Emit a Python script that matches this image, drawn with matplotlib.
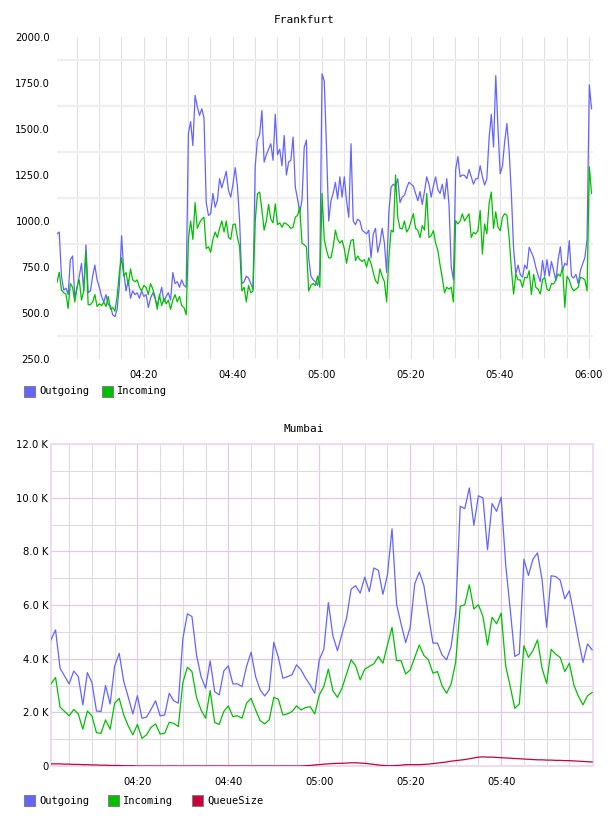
import matplotlib
matplotlib.use("Agg")
import matplotlib.pyplot as plt
from matplotlib.patches import Rectangle
import numpy as np

# ---------------- Frankfurt (30 s samples starting 04:00:34) ----------------
fra_start_min = 0.57
fra_step_min = 0.5
fra_outgoing = [
    930, 940, 700, 625, 635, 600, 790, 810, 580, 640,
    700, 770, 620, 870, 610, 620, 700, 760, 680, 640,
    590, 560, 600, 545, 540, 490, 480, 520, 650, 920,
    720, 620, 680, 580, 620, 600, 610, 580, 620, 590,
    600, 530, 580, 610, 580, 540, 590, 640, 560, 590,
    610, 570, 720, 660, 670, 640, 680, 650, 640, 1476,
    1540, 1410,
    1683, 1620, 1574, 1610, 1560, 1100, 1030, 1040, 1150, 1075,
    1110, 1230, 1180, 1225, 1270, 1166, 1130, 1200, 1290, 1190,
    1000, 660, 670, 700, 690, 660, 630, 1300, 1440, 1470,
    1600, 1320, 1360, 1390, 1420, 1330, 1580, 1360, 1390, 1300,
    1465, 1250, 1320, 1330, 1456, 1184, 1120, 1045, 1112, 1400,
    1440, 800, 700, 680, 670, 650, 727, 1800, 1760, 1400,
    1000,
    1110, 1150, 1210, 1120, 1240, 1130, 1240, 1110, 1020, 1420,
    1000, 980, 1010, 1000, 950, 940, 930, 950, 800, 930,
    960, 830, 880, 960, 880, 720, 1050, 1184, 1200, 1190,
    1230, 1100, 1130, 1140, 1180, 1210, 1200, 1190, 1150, 1110,
    1160, 1090, 1160, 1240, 1200, 1130, 1190, 1240, 1170, 1150,
    1200, 1120, 1230, 1090, 752, 680, 1280, 1350, 1240, 1250,
    1248, 1230, 1280, 1240, 1200, 1230, 1230, 1300, 1240, 1195,
    1230, 1450, 1580, 1402, 1790, 1500, 1257, 1300, 1430, 1530,
    1380, 1150, 850, 712, 760, 710, 694, 760, 740, 857,
    830, 800, 748, 705, 670, 785, 700, 790, 700, 780,
    730, 676, 790, 860, 730, 770, 760, 893, 700, 690,
    710, 660, 730, 767, 800, 900, 1740, 1610,
]
fra_incoming = [
    667, 721, 625, 610, 603, 525, 660, 640, 560, 640,
    680, 570, 620, 830, 545, 545, 560, 600, 535, 550,
    540, 560, 535, 590, 520, 530, 510, 590, 720, 800,
    700, 720, 650, 740, 680, 670, 680, 640, 620, 650,
    640, 600, 660, 630, 590, 520, 600, 540, 580, 550,
    570, 520, 570, 600, 560, 590, 540, 530, 490, 900,
    1000, 900,
    1100, 960, 990, 1010, 1020, 850, 860, 830, 900, 940,
    910, 960, 1000, 940, 1000, 912, 900, 980, 984, 912,
    860, 620, 640, 560, 650, 610, 620, 1000, 1148, 1157,
    1060, 950, 1000, 1090, 1010, 990, 1093, 980, 990, 966,
    990, 985, 975, 960, 966, 1021, 1030, 1075, 880, 870,
    860, 620, 650, 660, 650, 700, 640, 1150, 900, 842,
    800,
    800, 860, 950, 900, 880, 894, 850, 770, 839, 894,
    900, 785, 810, 790, 780, 790, 750, 800, 770, 720,
    676, 660, 740, 700, 670, 560, 800, 950, 940, 1250,
    1020, 960, 957, 1000, 940, 960, 1000, 1040, 960, 950,
    910, 975, 950, 1150, 910, 920, 948, 880, 840, 760,
    690, 610, 640, 630, 640, 560, 1002, 984, 1000, 1039,
    1000, 1020, 1039, 910, 939, 930, 948, 1057, 821, 984,
    930, 1093, 1157, 960, 1050, 966, 948, 1020, 1040, 1030,
    912, 740, 603, 712, 680, 680, 640, 694, 690, 730,
    600, 710, 639, 630, 603, 680, 694, 630, 621, 660,
    658, 680, 712, 700, 748, 531, 700, 680, 640, 620,
    630, 640, 694, 690, 680, 620, 1295, 1150,
]

fra_ytick_vals = [250, 500, 750, 1000, 1250, 1500, 1750, 2000]
fra_ytick_labels = ["250.0", "500.0", "750.0", "1000.0", "1250.0", "1500.0", "1750.0", "2000.0"]
fra_ygrid_vals = [375, 625, 875, 1125, 1375, 1625, 1875]

# ---------------- Mumbai (1 min samples starting 04:01) ----------------
mum_start_min = 1
mum_step_min = 1
mum_outgoing_k = [
    4.70, 5.07, 3.64, 3.35, 3.06, 3.54, 3.33, 2.28, 3.48, 3.11,
    2.05, 2.03, 3.00, 2.31, 3.73, 4.20, 3.15, 2.56, 1.94, 2.62,
    1.78, 1.82, 2.11, 2.43, 1.87, 1.90, 2.71, 2.43, 2.34, 4.76,
    5.67, 5.57, 4.14, 3.33, 2.90, 3.92, 2.77, 2.65, 3.54, 3.73,
    3.06, 3.06, 2.96, 3.71, 4.24, 3.33, 2.84, 2.61, 2.84, 4.61,
    4.05, 3.27, 3.33, 3.40, 3.77, 3.58, 3.27, 3.02, 2.71, 3.96,
    4.35, 6.09, 4.85, 4.30, 4.93, 5.51, 6.59, 6.72, 6.44, 7.04,
    6.50, 7.38, 7.29, 6.40, 7.13, 8.84, 6.03, 5.29, 4.60, 5.17,
    6.79, 7.23, 6.73, 5.63, 4.58, 4.58, 4.14, 3.96, 4.45, 5.73,
    9.68, 9.59, 10.36, 8.97, 10.07, 9.99, 8.06, 9.78, 9.49, 10.02,
    7.50, 5.82, 4.08, 4.18, 7.71, 7.10, 7.71, 7.94, 6.94, 5.17,
    7.09, 7.06, 6.92, 6.23, 6.53, 5.63, 4.70, 3.86, 4.55, 4.33,
]
mum_incoming_k = [
    3.06, 3.30, 2.19, 2.03, 1.87, 2.11, 1.94, 1.37, 2.05, 1.87,
    1.24, 1.22, 1.72, 1.37, 2.34, 2.52, 1.90, 1.49, 1.16, 1.55,
    1.03, 1.16, 1.44, 1.57, 1.19, 1.22, 1.63, 1.59, 1.47, 3.11,
    3.68, 3.52, 2.56, 2.09, 1.78, 2.81, 1.62, 1.55, 2.03, 2.24,
    1.84, 1.87, 1.78, 2.34, 2.52, 2.09, 1.69, 1.57, 1.72, 2.56,
    2.49, 1.90, 1.94, 2.03, 2.24, 2.09, 2.18, 2.21, 1.94, 2.65,
    2.96, 3.61, 2.80, 2.56, 2.90, 3.43, 3.96, 3.73, 3.21, 3.61,
    3.71, 3.81, 4.08, 3.83, 4.51, 5.17, 3.93, 3.92, 3.43, 3.58,
    4.05, 4.51, 4.12, 3.96, 3.46, 3.52, 2.99, 2.71, 3.06, 3.87,
    5.95, 6.01, 6.75, 5.85, 6.01, 5.57, 4.51, 5.54, 5.30, 5.70,
    3.73, 2.96, 2.15, 2.31, 4.48, 4.05, 4.30, 4.70, 3.64, 3.08,
    4.35, 4.17, 4.04, 3.52, 3.83, 3.02, 2.59, 2.28, 2.62, 2.74,
]
mum_queue_k = [
    0.08, 0.08, 0.08, 0.07, 0.07, 0.06, 0.06, 0.05, 0.05, 0.04,
    0.04, 0.03, 0.03, 0.02, 0.02, 0.02, 0.01, 0.01, 0.01, 0.00,
    0.00, 0.00, 0.00, 0.00, 0.00, 0.00, 0.00, 0.00, 0.00, 0.00,
    0.00, 0.00, 0.00, 0.00, 0.00, 0.00, 0.00, 0.00, 0.00, 0.00,
    0.00, 0.00, 0.00, 0.00, 0.00, 0.00, 0.00, 0.00, 0.00, 0.00,
    0.00, 0.00, 0.00, 0.00, 0.00, 0.00, 0.01, 0.02, 0.04, 0.05,
    0.07, 0.08, 0.09, 0.10, 0.10, 0.11, 0.12, 0.12, 0.11, 0.10,
    0.08, 0.06, 0.04, 0.02, 0.01, 0.01, 0.02, 0.03, 0.05, 0.05,
    0.05, 0.05, 0.06, 0.07, 0.09, 0.11, 0.13, 0.15, 0.18, 0.20,
    0.22, 0.24, 0.27, 0.30, 0.33, 0.34, 0.33, 0.33, 0.32, 0.31,
    0.30, 0.29, 0.28, 0.27, 0.26, 0.25, 0.24, 0.23, 0.23, 0.22,
    0.22, 0.21, 0.21, 0.20, 0.20, 0.19, 0.18, 0.17, 0.16, 0.15,
]
mum_ytick_vals = [0, 2, 4, 6, 8, 10, 12]
mum_ytick_labels = ["0", "2.0 K", "4.0 K", "6.0 K", "8.0 K", "10.0 K", "12.0 K"]

# time ticks (minutes after 04:00)
time_tick_vals = [20, 40, 60, 80, 100, 120]
time_tick_labels = ["04:20", "04:40", "05:00", "05:20", "05:40", "06:00"]

C_OUT = "#6464ff"
C_IN = "#00c000"
C_Q = "#c8003c"

W, H = 608, 816
fig = plt.figure(figsize=(W / 100, H / 100), dpi=100)
fig.patch.set_facecolor("white")

def px_rect(x0, y0, x1, y1):
    return [x0 / W, 1 - y1 / H, (x1 - x0) / W, (y1 - y0) / H]

TICK_FONT = dict(family="DejaVu Sans", size=7.2)
MONO = "DejaVu Sans Mono"

# ---------------- Top: Frankfurt ----------------
ax1 = fig.add_axes(px_rect(57, 37, 593, 359))
t1 = fra_start_min + fra_step_min * np.arange(len(fra_outgoing))
ax1.plot(t1, fra_outgoing, color=C_OUT, lw=0.9, zorder=3)
ax1.plot(t1, fra_incoming, color=C_IN, lw=0.9, zorder=4)
ax1.set_xlim(0.57, 120.9)
ax1.set_ylim(250, 2000)
for s in ax1.spines.values():
    s.set_visible(False)
ax1.set_yticks(fra_ytick_vals)
ax1.set_yticklabels(fra_ytick_labels, **TICK_FONT)
ax1.set_yticks(fra_ygrid_vals, minor=True)
ax1.set_xticks(time_tick_vals)
ax1.set_xticklabels(time_tick_labels, **TICK_FONT)
ax1.set_xticks(np.arange(5, 121, 5), minor=True)
ax1.tick_params(which="both", length=0)
ax1.tick_params(axis="y", pad=5)
ax1.tick_params(axis="x", pad=8)
ax1.grid(which="minor", axis="y", color="#efefef", lw=1.6, zorder=0)
ax1.grid(which="both", axis="x", color="#e2e2e2", lw=0.8, zorder=0)
ax1.set_axisbelow(True)
fig.text(304 / W, 1 - 20 / H, "Frankfurt", family=MONO, size=8, ha="center", va="center")

# ---------------- Bottom: Mumbai ----------------
ax2 = fig.add_axes(px_rect(51, 444, 593, 766))
t2 = mum_start_min + mum_step_min * np.arange(len(mum_outgoing_k))
ax2.plot(t2, mum_outgoing_k, color=C_OUT, lw=0.9, zorder=3)
ax2.plot(t2, mum_incoming_k, color=C_IN, lw=0.9, zorder=4)
ax2.plot(t2, mum_queue_k, color=C_Q, lw=0.9, zorder=5)
ax2.set_xlim(1, 120.2)
ax2.set_ylim(0, 12)
for s in ax2.spines.values():
    s.set_color("#ecdcef")
    s.set_linewidth(1.5)
ax2.set_yticks(mum_ytick_vals)
ax2.set_yticklabels(mum_ytick_labels, **TICK_FONT)
ax2.set_yticks(np.arange(1, 12, 2), minor=True)
ax2.set_xticks(time_tick_vals[:-1])
ax2.set_xticklabels(time_tick_labels[:-1], **TICK_FONT)
ax2.set_xticks([m for m in range(5, 121, 5) if m % 20 != 0], minor=True)
ax2.tick_params(which="both", length=0)
ax2.tick_params(axis="y", pad=2)
ax2.tick_params(axis="x", pad=8)
ax2.grid(which="minor", color="#dcdcdc", lw=0.8, zorder=0)
ax2.grid(which="major", color="#e3c9e6", lw=0.9, zorder=0)
ax2.set_axisbelow(True)
fig.text(304 / W, 1 - 429 / H, "Mumbai", family=MONO, size=8, ha="center", va="center")

# ---------------- Legends ----------------
def legend_item(xbox, ytop, color, label):
    fig.add_artist(Rectangle((xbox / W, 1 - (ytop + 11) / H), 11 / W, 11 / H,
                             transform=fig.transFigure, facecolor=color,
                             edgecolor="#808080", lw=0.8))
    fig.text((xbox + 15) / W, 1 - (ytop + 5.5) / H, label, family=MONO, size=7.5,
             ha="left", va="center")

legend_item(24, 386, C_OUT, "Outgoing")
legend_item(102, 386, C_IN, "Incoming")
legend_item(24, 795, C_OUT, "Outgoing")
legend_item(108, 795, C_IN, "Incoming")
legend_item(192, 795, C_Q, "QueueSize")

fig.savefig("out.png", dpi=100, facecolor="white")
